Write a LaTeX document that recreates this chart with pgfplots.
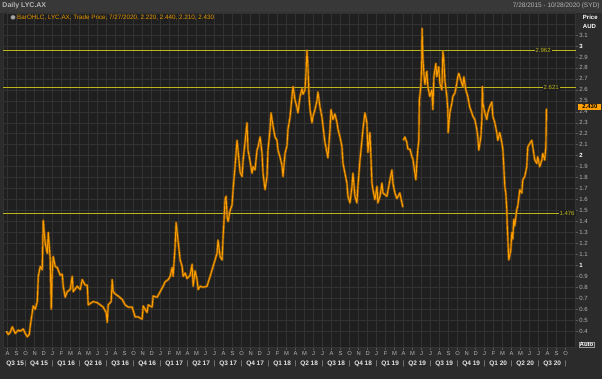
\documentclass[border=0pt]{standalone}
\usepackage{pgfplots}
\pgfplotsset{compat=1.18}
\usepackage{pgfplotstable}
\usepackage{fontspec}
\setmainfont{Liberation Sans}
\definecolor{outerbg}{HTML}{2B2B2B}
\definecolor{headbg}{HTML}{383838}
\definecolor{plotbg}{HTML}{1F1F1F}
\definecolor{gridc}{HTML}{323232}
\definecolor{lyc}{HTML}{FFA000}
\definecolor{lycdark}{HTML}{B06A00}
\definecolor{lvl}{HTML}{BDB61A}
\definecolor{txtgray}{HTML}{B4B4B4}
\definecolor{legor}{HTML}{E89A00}

% months since 1 Aug 2015, price AUD
\pgfplotstableread{
m p
-0.14 0.40
0.08 0.37
0.30 0.39
0.52 0.44
0.85 0.38
1.19 0.41
1.41 0.40
1.74 0.42
1.96 0.38
2.19 0.35
2.41 0.37
2.52 0.45
2.74 0.57
2.85 0.63
3.07 0.60
3.30 0.67
3.41 0.90
3.63 0.99
3.85 0.96
3.96 1.41
4.07 1.30
4.18 1.20
4.41 1.11
4.52 1.30
4.74 1.05
4.85 0.60
4.96 0.94
5.07 1.08
5.29 0.99
5.52 0.98
5.85 0.91
6.07 0.92
6.18 0.81
6.40 0.71
6.63 0.76
6.96 0.78
7.18 0.90
7.29 0.76
7.74 0.81
8.07 0.78
8.29 0.87
8.62 0.82
8.85 0.82
8.96 0.64
9.51 0.67
9.96 0.66
10.29 0.64
10.62 0.62
10.95 0.57
11.07 0.48
11.18 0.64
11.51 0.67
11.62 0.87
11.73 0.76
11.95 0.74
12.29 0.72
12.73 0.69
13.06 0.64
13.40 0.62
13.84 0.62
14.17 0.53
14.51 0.53
14.95 0.51
15.06 0.63
15.50 0.57
15.62 0.64
16.06 0.62
16.17 0.72
16.62 0.71
16.95 0.76
17.28 0.81
17.50 0.85
17.84 0.87
18.06 0.90
18.28 0.98
18.39 0.90
18.61 1.17
18.72 1.39
18.84 1.30
19.17 1.05
19.39 0.99
19.50 0.90
19.72 0.93
19.94 0.88
20.28 0.91
20.50 1.01
20.61 0.81
20.83 0.95
21.05 0.87
21.17 0.78
21.39 0.81
21.72 0.80
22.16 0.81
22.27 0.84
22.50 0.90
22.83 0.99
23.27 1.11
23.38 1.23
23.61 1.08
23.83 1.05
23.94 1.25
24.16 1.60
24.27 1.63
24.39 1.44
24.50 1.40
24.72 1.50
24.94 1.55
25.05 1.69
25.27 1.90
25.49 2.14
25.60 2.05
25.83 1.85
26.05 1.81
26.16 1.95
26.60 2.30
26.71 2.05
26.94 1.95
27.16 1.84
27.27 1.90
27.49 1.87
27.71 2.05
27.83 2.08
28.05 2.17
28.27 2.02
28.38 1.84
28.60 1.69
28.82 1.81
28.93 2.05
29.16 2.24
29.27 2.39
29.49 2.27
29.71 2.17
29.93 2.14
30.04 2.05
30.26 1.99
30.49 1.91
30.60 1.81
30.82 2.02
31.04 2.09
31.15 2.24
31.38 2.35
31.60 2.54
31.71 2.63
31.93 2.51
32.15 2.44
32.26 2.39
32.49 2.54
32.71 2.61
32.82 2.56
33.04 2.60
33.15 2.75
33.26 2.96
33.37 2.81
33.49 2.54
33.60 2.42
33.82 2.30
33.93 2.36
34.15 2.42
34.37 2.50
34.48 2.58
34.71 2.44
34.93 2.35
35.04 2.27
35.26 2.12
35.48 2.03
35.59 1.98
35.82 2.24
35.93 2.42
36.15 2.33
36.37 2.38
36.60 2.30
36.71 2.24
36.93 2.17
37.15 2.08
37.26 1.93
37.48 1.84
37.70 1.75
37.81 1.63
38.04 1.57
38.26 1.72
38.37 1.84
38.59 1.63
38.81 1.57
38.92 1.72
39.15 1.96
39.37 2.14
39.48 2.24
39.70 2.39
39.92 2.30
40.03 2.03
40.26 2.21
40.37 1.98
40.48 1.75
40.59 1.69
40.81 1.60
41.04 1.72
41.14 1.57
41.37 1.63
41.59 1.75
41.70 1.66
42.14 1.63
42.48 1.78
42.70 1.87
42.81 1.75
43.03 1.66
43.25 1.61
43.58 1.66
43.81 1.57
43.92 1.53
43.93 nan
43.95 2.14
44.14 2.17
44.36 2.12
44.47 2.06
44.70 2.06
44.92 1.99
45.03 1.97
45.25 1.84
45.36 1.78
45.47 1.94
45.58 2.06
45.69 2.14
45.75 2.51
45.91 2.63
46.00 2.81
46.05 3.16
46.14 2.89
46.25 2.75
46.36 2.65
46.58 2.77
46.69 2.63
46.91 2.54
47.14 2.60
47.25 2.42
47.36 2.72
47.58 2.84
47.69 2.72
47.91 2.81
48.02 2.66
48.25 2.60
48.36 2.95
48.47 2.87
48.58 2.69
48.80 2.54
48.91 2.42
48.95 2.21
49.13 2.39
49.36 2.48
49.47 2.54
49.69 2.57
49.91 2.66
50.02 2.72
50.13 2.75
50.35 2.69
50.58 2.63
50.69 2.72
50.91 2.60
51.13 2.54
51.35 2.44
51.58 2.39
51.69 2.36
51.91 2.33
52.13 2.24
52.24 2.17
52.35 2.05
52.58 2.17
52.69 2.33
52.75 2.63
52.80 2.48
53.02 2.39
53.24 2.33
53.35 2.39
53.58 2.45
53.80 2.49
53.91 2.36
54.13 2.30
54.35 2.21
54.46 2.14
54.68 2.21
54.91 2.12
55.02 2.06
55.13 1.90
55.24 1.72
55.35 1.66
55.46 1.51
55.50 1.39
55.57 1.26
55.68 1.05
55.91 1.14
56.02 1.30
56.13 1.24
56.24 1.42
56.35 1.36
56.57 1.51
56.68 1.54
56.91 1.69
57.13 1.66
57.24 1.78
57.46 1.81
57.68 1.90
57.79 2.08
58.02 2.11
58.24 2.14
58.35 2.08
58.57 1.96
58.79 1.93
58.90 1.99
59.12 1.90
59.35 1.96
59.46 2.02
59.68 1.96
59.80 2.08
59.83 2.21
59.87 2.43
}\lycdata

\begin{document}
\begin{tikzpicture}
\fill[outerbg] (0pt,0pt) rectangle (602pt,379pt);
\fill[headbg] (0pt,367pt) rectangle (602pt,379pt);
\draw[gray!45!black, line width=0.6pt] (0pt,367pt) -- (602pt,367pt);
\node[anchor=west, font=\bfseries\fontsize{7}{8}\selectfont, text=txtgray, inner sep=0pt] at (2pt,373pt) {Daily LYC.AX};
\node[anchor=east, font=\fontsize{6.5}{7}\selectfont, text=txtgray, inner sep=0pt] at (600pt,373pt) {7/28/2015 - 10/28/2020 (SYD)};

\begin{axis}[
  at={(3pt,31pt)}, anchor=south west,
  width=573pt, height=336pt, scale only axis,
  xmin=-0.477, xmax=63.12, ymin=0.25, ymax=3.31,
  clip=false,
  axis background/.style={fill=plotbg},
  axis line style={draw=gray!40!black, line width=0.6pt},
  grid=both,
  major grid style={draw=gridc, line width=0.5pt},
  minor grid style={draw=gridc, line width=0.5pt},
  xtick={0,...,62},
  xticklabels={A,S,O,N,D,
    J,F,M,A,M,J,J,A,S,O,N,D,
    J,F,M,A,M,J,J,A,S,O,N,D,
    J,F,M,A,M,J,J,A,S,O,N,D,
    J,F,M,A,M,J,J,A,S,O,N,D,
    J,F,M,A,M,J,J,A,S,O},
  xtick pos=bottom,
  ytick pos=right,
  yticklabel pos=right,
  tick align=outside,
  major tick length=2.5pt,
  tick style={draw=gray!70!black, line width=0.5pt},
  minor ytick={3.2,3.3},
  minor tick length=0pt,
  ytick={0.4,0.5,0.6,0.7,0.8,0.9,1,1.1,1.2,1.3,1.4,1.5,1.6,1.7,1.8,1.9,2,2.1,2.2,2.3,2.4,2.5,2.6,2.7,2.8,2.9,3,3.1},
  yticklabels={0.4,0.5,0.6,0.7,0.8,0.9,{\bfseries\color{white}1},1.1,1.2,1.3,1.4,1.5,1.6,1.7,1.8,1.9,{\bfseries\color{white}2},2.1,2.2,2.3,2.4,2.5,2.6,2.7,2.8,2.9,{\bfseries\color{white}3},3.1},
  xticklabel style={font=\fontsize{5.8}{6}\selectfont, text=txtgray, inner sep=1pt},
  yticklabel style={font=\fontsize{6}{7}\selectfont, text=txtgray, anchor=west, inner sep=1pt},
]
% support / resistance levels
\addplot[lvl, line width=0.8pt, forget plot] coordinates {(-0.477,2.962) (63.12,2.962)};
\addplot[lvl, line width=0.8pt, forget plot] coordinates {(-0.477,2.621) (63.12,2.621)};
\addplot[lvl, line width=0.8pt, forget plot] coordinates {(-0.477,1.476) (63.12,1.476)};
% price series
\addplot[lycdark, line width=2.4pt, opacity=0.75, unbounded coords=jump, line join=round, forget plot] table[x=m,y=p] {\lycdata};
\addplot[lyc, line width=0.9pt, unbounded coords=jump, line join=round, forget plot] table[x=m,y=p] {\lycdata};

% level labels
\node[fill=plotbg, text=lvl, font=\fontsize{6}{7}\selectfont, inner sep=1pt] at (axis cs:59.5,2.962) {2.962};
\node[fill=plotbg, text=lvl, font=\fontsize{6}{7}\selectfont, inner sep=1pt] at (axis cs:60.4,2.621) {2.621};
\node[fill=plotbg, text=lvl, font=\fontsize{6}{7}\selectfont, inner sep=1pt, anchor=east] at (axis cs:63.12,1.476) {1.476};

% legend line
\node[circle, fill=gray!70, draw=gray!40!black, inner sep=0pt, minimum size=5pt] at (rel axis cs:0.017,0.984) {};
\node[anchor=west, text=legor, font=\fontsize{6.3}{7}\selectfont, inner sep=0pt] at (rel axis cs:0.024,0.984) {BarOHLC, LYC.AX, Trade Price, 7/27/2020, 2.220, 2.440, 2.210, 2.430};

% right-side labels
\node[anchor=west, text=white, font=\bfseries\fontsize{6}{7}\selectfont, inner sep=0pt] at ([xshift=7pt]rel axis cs:1,0.984) {Price};
\node[anchor=west, text=white, font=\bfseries\fontsize{6}{7}\selectfont, inner sep=0pt] at ([xshift=7pt]rel axis cs:1,0.957) {AUD};
\node[anchor=west, fill=lyc, text=black, font=\bfseries\fontsize{6}{7}\selectfont, inner sep=1.2pt, minimum width=23pt] at ([xshift=2.5pt]axis cs:63.12,2.445) {2.430};
\node[anchor=west, draw=gray!80, fill=gray!35!black, text=white, font=\bfseries\fontsize{6}{7}\selectfont, inner sep=0.8pt] at ([xshift=3pt,yshift=3pt]rel axis cs:1,0) {Auto};

% quarter labels
\begin{scope}[every node/.style={text=gray!20, font=\bfseries\fontsize{6.5}{7}\selectfont, inner sep=0pt}]
\node at ([yshift=-16pt]axis cs:0.85,0.25) {Q3 15};
\node at ([yshift=-16pt]axis cs:3.5,0.25) {Q4 15};
\node at ([yshift=-16pt]axis cs:6.5,0.25) {Q1 16};
\node at ([yshift=-16pt]axis cs:9.5,0.25) {Q2 16};
\node at ([yshift=-16pt]axis cs:12.5,0.25) {Q3 16};
\node at ([yshift=-16pt]axis cs:15.5,0.25) {Q4 16};
\node at ([yshift=-16pt]axis cs:18.5,0.25) {Q1 17};
\node at ([yshift=-16pt]axis cs:21.5,0.25) {Q2 17};
\node at ([yshift=-16pt]axis cs:24.5,0.25) {Q3 17};
\node at ([yshift=-16pt]axis cs:27.5,0.25) {Q4 17};
\node at ([yshift=-16pt]axis cs:30.5,0.25) {Q1 18};
\node at ([yshift=-16pt]axis cs:33.5,0.25) {Q2 18};
\node at ([yshift=-16pt]axis cs:36.5,0.25) {Q3 18};
\node at ([yshift=-16pt]axis cs:39.5,0.25) {Q4 18};
\node at ([yshift=-16pt]axis cs:42.5,0.25) {Q1 19};
\node at ([yshift=-16pt]axis cs:45.5,0.25) {Q2 19};
\node at ([yshift=-16pt]axis cs:48.5,0.25) {Q3 19};
\node at ([yshift=-16pt]axis cs:51.5,0.25) {Q4 19};
\node at ([yshift=-16pt]axis cs:54.5,0.25) {Q1 20};
\node at ([yshift=-16pt]axis cs:57.5,0.25) {Q2 20};
\node at ([yshift=-16pt]axis cs:60.5,0.25) {Q3 20};
\end{scope}
\begin{scope}[every node/.style={text=gray!60, font=\fontsize{6.5}{7}\selectfont, inner sep=0pt}]
\node at ([yshift=-16pt]axis cs:2,0.25) {|};
\node at ([yshift=-16pt]axis cs:5,0.25) {|};
\node at ([yshift=-16pt]axis cs:8,0.25) {|};
\node at ([yshift=-16pt]axis cs:11,0.25) {|};
\node at ([yshift=-16pt]axis cs:14,0.25) {|};
\node at ([yshift=-16pt]axis cs:17,0.25) {|};
\node at ([yshift=-16pt]axis cs:20,0.25) {|};
\node at ([yshift=-16pt]axis cs:23,0.25) {|};
\node at ([yshift=-16pt]axis cs:26,0.25) {|};
\node at ([yshift=-16pt]axis cs:29,0.25) {|};
\node at ([yshift=-16pt]axis cs:32,0.25) {|};
\node at ([yshift=-16pt]axis cs:35,0.25) {|};
\node at ([yshift=-16pt]axis cs:38,0.25) {|};
\node at ([yshift=-16pt]axis cs:41,0.25) {|};
\node at ([yshift=-16pt]axis cs:44,0.25) {|};
\node at ([yshift=-16pt]axis cs:47,0.25) {|};
\node at ([yshift=-16pt]axis cs:50,0.25) {|};
\node at ([yshift=-16pt]axis cs:53,0.25) {|};
\node at ([yshift=-16pt]axis cs:56,0.25) {|};
\node at ([yshift=-16pt]axis cs:59,0.25) {|};
\node at ([yshift=-16pt]axis cs:62,0.25) {|};
\end{scope}
\end{axis}
\end{tikzpicture}
\end{document}
